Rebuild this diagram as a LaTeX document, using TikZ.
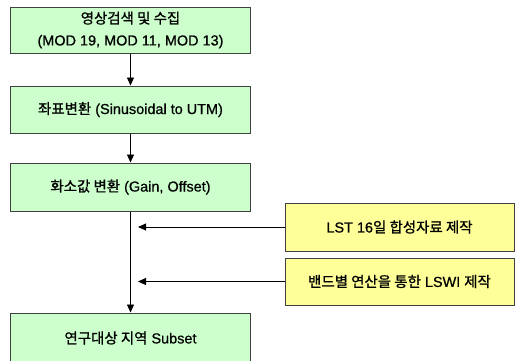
\documentclass[tikz,border=0pt]{standalone}
\usepackage{fontspec}
\setmainfont{Liberation Sans}[FakeBold=0.7]
\newfontfamily\krfont{Noto Sans CJK KR}[FakeBold=1]
\newcommand{\kr}[1]{{\krfont #1}}
\usetikzlibrary{arrows.meta}
\definecolor{boxgreen}{HTML}{CCFFCC}
\definecolor{boxyellow}{HTML}{FFFF99}
\tikzset{
  txt/.style={font=\fontsize{14.5}{22}\selectfont},
  flowbox/.style={txt, draw=black!75, line width=1bp, fill=boxgreen, minimum width=239bp, inner sep=0pt, align=center},
  sidebox/.style={txt, draw=black!75, line width=1bp, fill=boxyellow, minimum width=229bp, inner sep=0pt, align=center},
  conn/.style={line width=0.9bp, -{Triangle[length=8bp,width=7bp]}},
}
\begin{document}
\begin{tikzpicture}[x=1bp,y=-1bp]
\useasboundingbox (0,0) rectangle (515,360);
\fill[white] (0,0) rectangle (515,360);
\node[flowbox, minimum height=46bp] (b1) at (130.5,30) {\kr{영상검색 및 수집}\\(MOD 19, MOD 11, MOD 13)};
\node[flowbox, minimum height=47bp] (b2) at (130.5,109.5) {\kr{좌표변환} (Sinusoidal to UTM)};
\node[flowbox, minimum height=48bp] (b3) at (130.5,187) {\kr{화소값 변환} (Gain, Offset)};
\node[flowbox, minimum height=50bp] (b4) at (130.5,338) {\kr{연구대상 지역} Subset};
\node[sidebox, minimum height=48bp] (s1) at (399.5,227) {LST 16\kr{일 합성자료 제작}};
\node[sidebox, minimum height=47bp] (s2) at (399.5,281.5) {\kr{밴드별 연산을 통한} LSWI \kr{제작}};
\coordinate (t1) at (138,227);
\coordinate (t2) at (138,281.5);
\draw[conn] (b1) -- (b2);
\draw[conn] (b2) -- (b3);
\draw[conn] (b3) -- (b4);
\draw[conn] (s1) -- (t1);
\draw[conn] (s2) -- (t2);
\end{tikzpicture}
\end{document}
